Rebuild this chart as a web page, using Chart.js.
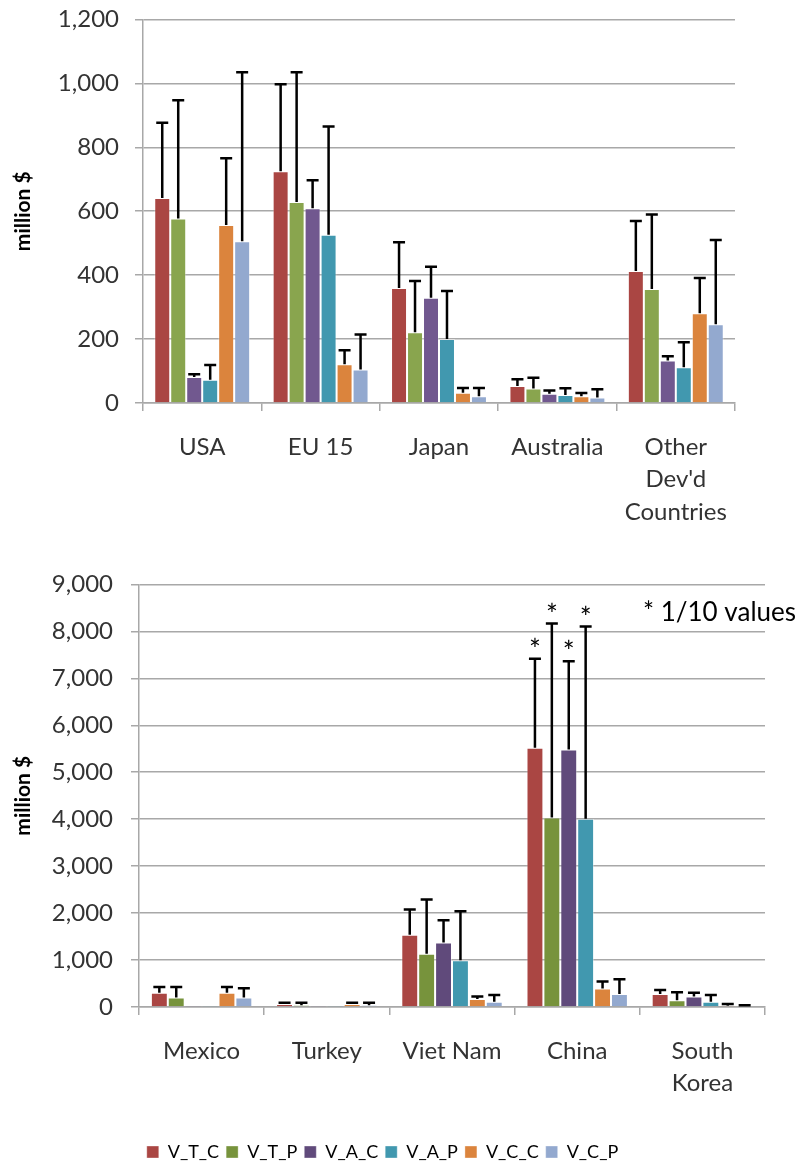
<!DOCTYPE html>
<html>
<head>
<meta charset="utf-8">
<script src="https://cdn.jsdelivr.net/npm/chart.js@4"></script>
<style>
  body { margin: 0; background: #fff; }
  #wrap { position: relative; width: 799px; height: 1164px; overflow: hidden; }
  #top-chart { position: absolute; left: 0; top: -11px; }
  #bottom-chart { position: absolute; left: 0; top: 552px; }
</style>
</head>
<body>
<div id="wrap">
  <canvas id="top-chart" width="799" height="540"></canvas>
  <canvas id="bottom-chart" width="799" height="619"></canvas>
</div>
<script>
// Series names (shared legend)
const seriesNames = ['V_T_C', 'V_T_P', 'V_A_C', 'V_A_P', 'V_C_C', 'V_C_P'];

// Top panel: developed countries
const topCategories = ['USA', 'EU 15', 'Japan', 'Australia', ['Other', "Dev'd", 'Countries']];
const topTicks = [0, 200, 400, 600, 800, 1000, 1200];
const top_V_T_C = [641, 725, 360, 53, 413];
const top_V_T_P = [577, 629, 221, 45, 357];
const top_V_A_C = [81, 609, 329, 29, 133];
const top_V_A_P = [73, 526, 200, 25, 112];
const top_V_C_C = [557, 121, 32, 21, 281];
const top_V_C_P = [506, 105, 21, 17, 246];
// upper end of error bars
const topErr_V_T_C = [877, 997, 503, 74, 569];
const topErr_V_T_P = [947, 1035, 382, 79, 590];
const topErr_V_A_C = [90, 697, 426, 39, 146];
const topErr_V_A_P = [119, 865, 350, 46, 190];
const topErr_V_C_C = [766, 165, 47, 31, 391];
const topErr_V_C_P = [1035, 214, 47, 43, 510];

// Bottom panel: developing countries
const bottomCategories = ['Mexico', 'Turkey', 'Viet Nam', 'China', ['South', 'Korea']];
const bottomTicks = [0, 1000, 2000, 3000, 4000, 5000, 6000, 7000, 8000, 9000];
const bot_V_T_C = [306, 64, 1540, 5520, 278];
const bot_V_T_P = [200, 36, 1134, 4037, 143];
const bot_V_A_C = [28, 28, 1376, 5484, 221];
const bot_V_A_P = [25, 25, 998, 4008, 114];
const bot_V_C_C = [306, 64, 171, 392, 28];
const bot_V_C_P = [200, 36, 114, 278, 20];
const botErr_V_T_C = [428, 92, 2075, 7417, 364];
const botErr_V_T_P = [428, 92, 2289, 8166, 314];
const botErr_V_A_C = [28, 28, 1846, 7366, 306];
const botErr_V_A_P = [25, 25, 2040, 8102, 257];
const botErr_V_C_C = [428, 92, 221, 542, 64];
const botErr_V_C_P = [399, 92, 257, 592, 36];

// China values shown at 1/10 for these series
const starredCategory = 'China';
const starredSeries = ['V_T_C', 'V_T_P', 'V_A_C', 'V_A_P'];
const noteText = '* 1/10 values';

const topColors = ['#AA4643', '#89A54E', '#71588F', '#4198AF', '#DB843D', '#93A9CF'];
const bottomColors = ['#AA4643', '#77933C', '#604A7B', '#4198AF', '#DB843D', '#93A9CF'];

Chart.defaults.font.family = 'Lato';
Chart.defaults.color = '#333';

const GRID = '#a8a8a8';

// draws the upper error bars (plus optional asterisks) on top of bars
const errorBars = {
  id: 'errorBars',
  afterDatasetsDraw(chart) {
    const { ctx } = chart;
    const yScale = chart.scales.y;
    ctx.save();
    ctx.strokeStyle = '#000';
    ctx.lineWidth = 2.5;
    chart.data.datasets.forEach((ds, i) => {
      const meta = chart.getDatasetMeta(i);
      meta.data.forEach((bar, j) => {
        const hi = ds.errorTop[j];
        if (hi <= ds.data[j]) return;
        const yTop = yScale.getPixelForValue(hi);
        ctx.beginPath();
        ctx.moveTo(bar.x, bar.y);
        ctx.lineTo(bar.x, yTop);
        ctx.moveTo(bar.x - 6, yTop);
        ctx.lineTo(bar.x + 6, yTop);
        ctx.stroke();
        if (ds.starred && ds.starred[j]) {
          ctx.fillStyle = '#000';
          ctx.font = '28px Lato';
          ctx.textAlign = 'center';
          ctx.textBaseline = 'alphabetic';
          ctx.fillText('*', bar.x, yTop + 1);
        }
      });
    });
    ctx.restore();
  }
};

const notePlugin = {
  id: 'note',
  afterDraw(chart, args, opts) {
    if (!opts.text) return;
    const { ctx, chartArea } = chart;
    ctx.save();
    ctx.fillStyle = '#000';
    ctx.font = '26px Lato';
    ctx.textAlign = 'left';
    ctx.textBaseline = 'middle';
    ctx.fillText(opts.text, chartArea.right - 122, chartArea.top + 28);
    ctx.restore();
  }
};

function makeDatasets(values, errors, colors, categories) {
  return seriesNames.map((name, i) => ({
    label: name,
    data: values[i],
    errorTop: errors[i],
    starred: categories.map(c => c === starredCategory && starredSeries.includes(name)),
    backgroundColor: colors[i],
    borderColor: 'rgba(255,255,255,0.35)',
    borderWidth: 1,
    categoryPercentage: 0.81,
    barPercentage: 1.0
  }));
}

function makeChart(canvas, cfg) {
  return new Chart(canvas, {
    type: 'bar',
    data: {
      labels: cfg.labels,
      datasets: makeDatasets(cfg.values, cfg.errors, cfg.colors, cfg.labels)
    },
    options: {
      responsive: false,
      animation: false,
      layout: { padding: cfg.padding },
      plugins: {
        legend: cfg.legend,
        tooltip: { enabled: false },
        note: { text: cfg.note }
      },
      scales: {
        x: {
          grid: {
            offset: true,
            drawOnChartArea: false,
            drawTicks: true,
            tickLength: 8,
            color: GRID,
            lineWidth: 1.5
          },
          border: { color: GRID, width: 1.5 },
          ticks: {
            padding: cfg.xPad,
            maxRotation: 0,
            autoSkip: false,
            font: { size: 24, lineHeight: 1.35 }
          },
          afterFit: s => { s.height = cfg.xHeight; }
        },
        y: {
          min: 0,
          max: cfg.ticks[cfg.ticks.length - 1],
          afterBuildTicks: s => { s.ticks = cfg.ticks.map(v => ({ value: v })); },
          grid: { color: GRID, lineWidth: 1.5, tickLength: 8 },
          border: { color: GRID, width: 1.5 },
          ticks: {
            padding: cfg.yPad,
            font: { size: 24 },
            callback: v => v.toLocaleString('en-US')
          },
          title: {
            display: true,
            text: 'million $',
            color: '#000',
            font: { size: 21, weight: 'bold' },
            padding: { top: 11, bottom: 0 }
          },
          afterFit: s => { s.width = cfg.yWidth; }
        }
      }
    },
    plugins: [errorBars, notePlugin]
  });
}

makeChart(document.getElementById('top-chart'), {
  labels: topCategories,
  values: [top_V_T_C, top_V_T_P, top_V_A_C, top_V_A_P, top_V_C_C, top_V_C_P],
  errors: [topErr_V_T_C, topErr_V_T_P, topErr_V_A_C, topErr_V_A_P, topErr_V_C_C, topErr_V_C_P],
  colors: topColors,
  ticks: topTicks,
  padding: { top: 8, right: 64, left: 0, bottom: 0 },
  xHeight: 126,
  yWidth: 143,
  xPad: 20,
  yPad: 16,
  legend: { display: false },
  note: null
});

makeChart(document.getElementById('bottom-chart'), {
  labels: bottomCategories,
  values: [bot_V_T_C, bot_V_T_P, bot_V_A_C, bot_V_A_P, bot_V_C_C, bot_V_C_P],
  errors: [botErr_V_T_C, botErr_V_T_P, botErr_V_A_C, botErr_V_A_P, botErr_V_C_C, botErr_V_C_P],
  colors: bottomColors,
  ticks: bottomTicks,
  padding: { top: 17, right: 34, left: 0, bottom: 0 },
  xHeight: 129,
  yWidth: 139,
  xPad: 20,
  yPad: 18,
  legend: {
    display: true,
    position: 'bottom',
    labels: {
      boxWidth: 12,
      boxHeight: 12,
      padding: 7,
      color: '#000',
      font: { size: 18 }
    }
  },
  note: noteText
});
</script>
</body>
</html>
